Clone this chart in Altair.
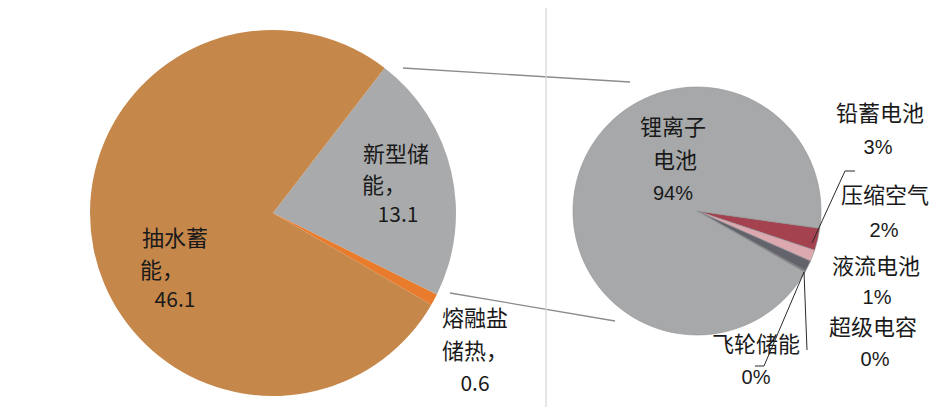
import math
import altair as alt
import pandas as pd

# ---------------- data ----------------
left_names = ["新型储能", "熔融盐储热", "抽水蓄能"]
left_values = [13.1, 0.6, 46.1]
left_labels = [["新型储", "能，", "13.1"], ["熔融盐", "储热，", "0.6"], ["抽水蓄", "能，", "46.1"]]

right_names = ["铅蓄电池", "压缩空气", "液流电池", "超级电容", "飞轮储能", "锂离子电池"]
right_values = [2.9, 1.5, 1.4, 0.1, 0.1, 94.0]
right_labels = [["铅蓄电池", "3%"], ["压缩空气", "2%"], ["液流电池", "1%"],
                ["超级电容", "0%"], ["飞轮储能", "0%"], ["锂离子", "电池", "94%"]]

# ---------------- styles / layout ----------------
left_colors = ["#A9AAAC", "#E87B2C", "#C6874A"]
right_colors = ["#A4434F", "#DDA9B0", "#62636B", "#45464C", "#3A3B40", "#A6A8AA"]

M = 8  # page margin -> chart coordinates
W, H = 928, 399
LEFT_C, LEFT_R, LEFT_START = (273 - M, 213 - M), 183, 37.6
RIGHT_C, RIGHT_R, RIGHT_START = (697 - M, 211 - M), 124, 98.0

# label line centres (page pixel coordinates)
left_label_pos = [[(396, 155), (384, 186), (398, 216)],
                  [(475, 319), (475, 352), (475, 385)],
                  [(175, 239), (162, 271), (175, 301)]]
right_label_pos = [[(880, 114), (878, 148)], [(885, 196), (884, 231)],
                   [(876, 267), (877, 298)], [(873, 328), (875, 360)],
                   [(756, 345), (756, 378)],
                   [(673, 128), (675, 161), (673, 194)]]

# annotation polylines (page pixel coordinates)
segments = [
    ((403, 68), (630, 82)),
    ((450, 293), (615, 321)),
    ((546, 0), (546, 413)),
    ((0, 413), (546, 413)),
]
seg_colors = ["#8c8c8c", "#8c8c8c", "#d9d9d9", "#e3e3e3"]
leaders = [
    ((855, 171), (845, 171)), ((845, 171), (812, 243)),
    ((804, 272), (807, 350)),
    ((804, 272), (764, 366)), ((764, 366), (755, 366)),
]

# ---------------- build ----------------
def pie(names, values, colors, center, radius, start_deg, stroke=None):
    df = pd.DataFrame({"name": names, "value": values, "idx": list(range(len(names)))})
    s = math.radians(start_deg)
    kw = dict(outerRadius=radius)
    if stroke:
        kw.update(stroke=stroke, strokeWidth=0.6)
    return alt.Chart(df).mark_arc(**kw).encode(
        theta=alt.Theta("value:Q", stack=True,
                        scale=alt.Scale(range=[s, s + 2 * math.pi])),
        order=alt.Order("idx:O"),
        color=alt.Color("name:N", scale=alt.Scale(domain=names, range=colors), legend=None),
        x=alt.value(center[0]),
        y=alt.value(center[1]),
    )

rows = []
for lines, poss in zip(left_labels + right_labels, left_label_pos + right_label_pos):
    for t, (px, py) in zip(lines, poss):
        is_num = any(ch.isdigit() for ch in t)
        rows.append({"t": t, "x": px - M, "y": py - M,
                     "kind": "pct" if "%" in t else ("num" if is_num else "cn")})
tdf = pd.DataFrame(rows)

def text_layer(kind, font, size):
    return alt.Chart(tdf[tdf.kind == kind]).mark_text(
        font=font, fontSize=size, color="#1a1a1a", align="center", baseline="middle"
    ).encode(x=alt.X("x:Q", scale=None), y=alt.Y("y:Q", scale=None), text="t:N")

seg_rows = []
for (a, b), c in zip(segments, seg_colors):
    seg_rows.append({"x": a[0] - M, "y": a[1] - M, "x2": b[0] - M, "y2": b[1] - M, "c": c, "w": 1.3})
for a, b in leaders:
    seg_rows.append({"x": a[0] - M, "y": a[1] - M, "x2": b[0] - M, "y2": b[1] - M, "c": "#2a2a2a", "w": 1.0})
sdf = pd.DataFrame(seg_rows)

rules = alt.Chart(sdf).mark_rule().encode(
    x=alt.X("x:Q", scale=None), y=alt.Y("y:Q", scale=None),
    x2="x2:Q", y2="y2:Q",
    color=alt.Color("c:N", scale=None),
    strokeWidth=alt.StrokeWidth("w:Q", scale=None),
)

left = pie(left_names, left_values, left_colors, LEFT_C, LEFT_R, LEFT_START)
right = pie(right_names, right_values, right_colors, RIGHT_C, RIGHT_R, RIGHT_START, stroke="#8e9092")

chart = alt.layer(
    left, right, rules,
    text_layer("cn", "Noto Sans CJK SC", 22),
    text_layer("num", "Noto Sans CJK SC", 21),
    text_layer("pct", "Liberation Sans", 20),
).resolve_scale(theta="independent", color="independent").properties(
    width=W, height=H, padding=0, autosize=alt.AutoSizeParams(type="none"),
    background="white",
).configure_view(stroke=None)

chart.save("out.html", embed_options={"renderer": "svg", "actions": False})
